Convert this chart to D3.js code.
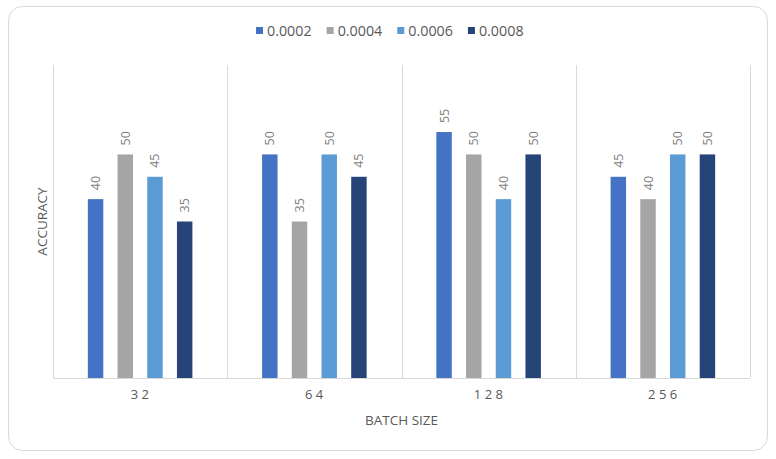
<!DOCTYPE html>
<html>
<head>
<meta charset="utf-8">
<script src="https://cdn.jsdelivr.net/npm/d3@7"></script>
<style>
  body { margin: 0; background: #fff; }
  svg text { font-family: "Open Sans", sans-serif; }
</style>
</head>
<body>
<svg id="chart" width="776" height="459"></svg>
<script>
// chart data
var batchSizes = ["32", "64", "128", "256"];
var learningRates = ["0.0002", "0.0004", "0.0006", "0.0008"];
var accuracy = {
    "0.0002": [40, 50, 55, 45],
    "0.0004": [50, 35, 50, 40],
    "0.0006": [45, 50, 40, 50],
    "0.0008": [35, 45, 50, 50]
};
var colors = ["#4472C4", "#A5A5A5", "#5B9BD5", "#264478"];

var svg = d3.select("#chart");

// outer frame
svg.append("rect")
    .attr("x", 8.5).attr("y", 6.5)
    .attr("width", 759).attr("height", 444)
    .attr("rx", 14).attr("ry", 14)
    .attr("fill", "#fff")
    .attr("stroke", "#d9d9d9");

var margin = {top: 65, left: 53, right: 26, bottom: 81};
var width = 776 - margin.left - margin.right,
    height = 459 - margin.top - margin.bottom;

var g = svg.append("g")
    .attr("transform", "translate(" + margin.left + "," + margin.top + ")");

var x0 = d3.scaleBand().domain(batchSizes).range([0, width]).padding(0);
var bw = x0.bandwidth();
var x1 = d3.scaleBand().domain(learningRates)
    .range([bw * 0.2, bw * 0.8])
    .paddingInner(0.48).paddingOuter(0);
var y = d3.scaleLinear().domain([0, 70]).range([height, 0]);

// category separators
var bounds = batchSizes.map(function(d) { return x0(d); }).concat([width]);
g.selectAll(".sep")
    .data(bounds)
    .enter().append("line")
    .attr("x1", function(d) { return Math.round(d) + 0.5; })
    .attr("x2", function(d) { return Math.round(d) + 0.5; })
    .attr("y1", 0).attr("y2", height)
    .attr("stroke", "#d9d9d9");

// bars
var groups = g.selectAll(".grp")
    .data(batchSizes)
    .enter().append("g")
    .attr("transform", function(d) { return "translate(" + x0(d) + ",0)"; });

groups.selectAll("rect")
    .data(function(d, i) {
        return learningRates.map(function(lr, j) { return {lr: lr, v: accuracy[lr][i], c: colors[j]}; });
    })
    .enter().append("rect")
    .attr("x", function(d) { return x1(d.lr); })
    .attr("y", function(d) { return y(d.v); })
    .attr("width", x1.bandwidth())
    .attr("height", function(d) { return height - y(d.v); })
    .attr("fill", function(d) { return d.c; });

// value labels (rotated)
groups.selectAll(".lbl")
    .data(function(d, i) {
        return learningRates.map(function(lr) { return {lr: lr, v: accuracy[lr][i]}; });
    })
    .enter().append("text")
    .attr("transform", function(d) {
        return "translate(" + (x1(d.lr) + x1.bandwidth() / 2 + 4.5) + "," + (y(d.v) - 9) + ") rotate(-90)";
    })
    .attr("text-anchor", "start")
    .attr("font-size", 12.5)
    .attr("fill", "#7f7f7f")
    .text(function(d) { return d.v; });

// baseline
g.append("line")
    .attr("x1", 0).attr("x2", width)
    .attr("y1", height + 0.5).attr("y2", height + 0.5)
    .attr("stroke", "#d9d9d9");

// category labels
g.selectAll(".cat")
    .data(batchSizes)
    .enter().append("text")
    .attr("x", function(d) { return x0(d) + bw / 2 + 1.5; })
    .attr("y", height + 21)
    .attr("text-anchor", "middle")
    .attr("font-size", 13)
    .attr("letter-spacing", 3.5)
    .attr("fill", "#595959")
    .text(function(d) { return d; });

// axis titles
svg.append("text")
    .attr("x", margin.left + width / 2)
    .attr("y", 425)
    .attr("text-anchor", "middle")
    .attr("font-size", 13.5)
    .attr("fill", "#595959")
    .text("BATCH SIZE");

svg.append("text")
    .attr("transform", "translate(47," + (margin.top + height / 2) + ") rotate(-90)")
    .attr("text-anchor", "middle")
    .attr("font-size", 13.5)
    .attr("fill", "#595959")
    .text("ACCURACY");

// legend
var legend = svg.append("g");
var lx = 256;
learningRates.forEach(function(lr, i) {
    var item = legend.append("g").attr("transform", "translate(" + lx + ",0)");
    item.append("rect")
        .attr("x", 0).attr("y", 27)
        .attr("width", 7).attr("height", 7)
        .attr("fill", colors[i]);
    var t = item.append("text")
        .attr("x", 11).attr("y", 36)
        .attr("font-size", 14.3)
        .attr("fill", "#595959")
        .text(lr);
    lx += 11 + t.node().getComputedTextLength() + 15;
});
</script>
</body>
</html>
